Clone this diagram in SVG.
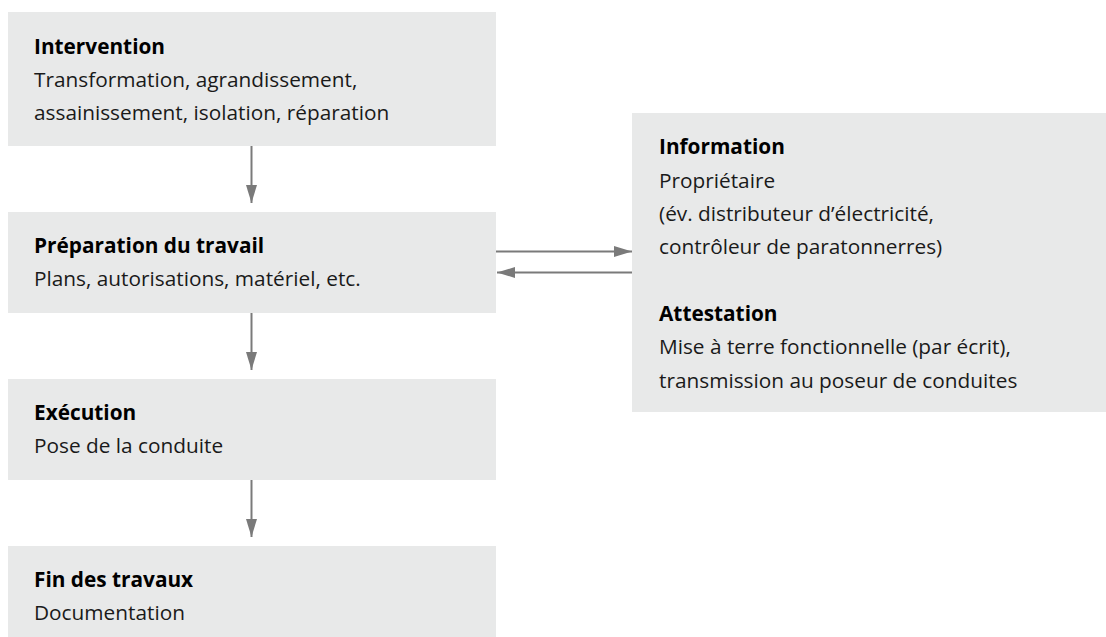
<svg xmlns="http://www.w3.org/2000/svg" width="1106" height="637" viewBox="0 0 1106 637">
<defs>
<style>
.box{fill:#e8e9e9}
.t{font-family:"Open Sans","Noto Sans","Liberation Sans",sans-serif;font-size:20.8px;fill:#1a1a1a}
.b{font-weight:bold;fill:#000}
.c{stroke:#7a7a7a;stroke-width:2;fill:none}
</style>
<marker id="ah" viewBox="0 0 18 12" refX="18" refY="6" markerWidth="18" markerHeight="12" markerUnits="userSpaceOnUse" orient="auto">
<path d="M0,0.5 L18,6 L0,11.5 Z" fill="#7a7a7a"/>
</marker>
</defs>
<rect width="1106" height="637" fill="#fff"/>
<g id="intervention">
<rect class="box" x="8" y="12" width="488" height="134"/>
<text class="t b" x="34" y="54">Intervention</text>
<text class="t" x="34" y="87">Transformation, agrandissement,</text>
<text class="t" x="34" y="120">assainissement, isolation, réparation</text>
</g>
<g id="preparation">
<rect class="box" x="8" y="212" width="488" height="101"/>
<text class="t b" x="34" y="253">Préparation du travail</text>
<text class="t" x="34" y="286">Plans, autorisations, matériel, etc.</text>
</g>
<g id="execution">
<rect class="box" x="8" y="379" width="488" height="101"/>
<text class="t b" x="34" y="420">Exécution</text>
<text class="t" x="34" y="453">Pose de la conduite</text>
</g>
<g id="fin">
<rect class="box" x="8" y="546" width="488" height="91"/>
<text class="t b" x="34" y="587">Fin des travaux</text>
<text class="t" x="34" y="620">Documentation</text>
</g>
<g id="information">
<rect class="box" x="632" y="113" width="474" height="299"/>
<text class="t b" x="659" y="154">Information</text>
<text class="t" x="659" y="187.5">Propriétaire</text>
<text class="t" x="659" y="220.5">(év. distributeur d’électricité,</text>
<text class="t" x="659" y="254">contrôleur de paratonnerres)</text>
<text class="t b" x="659" y="320.5">Attestation</text>
<text class="t" x="659" y="354">Mise à terre fonctionnelle (par écrit),</text>
<text class="t" x="659" y="387.5">transmission au poseur de conduites</text>
</g>
<g id="connectors">
<line class="c" x1="251.5" y1="146" x2="251.5" y2="203" marker-end="url(#ah)"/>
<line class="c" x1="251.5" y1="313" x2="251.5" y2="370" marker-end="url(#ah)"/>
<line class="c" x1="251.5" y1="480" x2="251.5" y2="537" marker-end="url(#ah)"/>
<line class="c" x1="496" y1="251.5" x2="632" y2="251.5" marker-end="url(#ah)"/>
<line class="c" x1="632" y1="272.5" x2="497" y2="272.5" marker-end="url(#ah)"/>
</g>
</svg>
